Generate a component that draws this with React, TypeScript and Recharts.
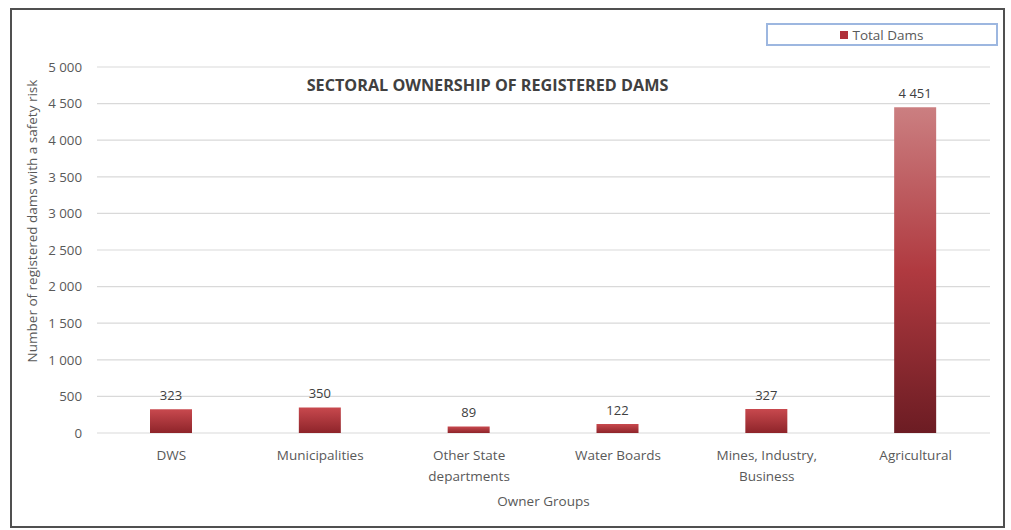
import React from 'react';
import {
  BarChart,
  Bar,
  XAxis,
  YAxis,
  CartesianGrid,
  Legend,
  LabelList,
  Cell,
  Text
} from 'recharts';

const ownerGroups = [
  'DWS',
  'Municipalities',
  'Other State departments',
  'Water Boards',
  'Mines, Industry, Business',
  'Agricultural'
];
const totalDams = [323, 350, 89, 122, 327, 4451];
const yTicks = [0, 500, 1000, 1500, 2000, 2500, 3000, 3500, 4000, 4500, 5000];

const data = ownerGroups.map((group, i) => ({ group, total: totalDams[i] }));

const fmt = (v: number) => String(v).replace(/\B(?=(\d{3})+(?!\d))/g, ' ');
const FONT = '"Open Sans", "Liberation Sans", sans-serif';

function CategoryTick(props: any) {
  const { x, y, payload } = props;
  return (
    <Text
      x={x}
      y={y + 9}
      width={122}
      textAnchor="middle"
      verticalAnchor="start"
      fontSize={13.5}
      fill="#595959"
      fontFamily={FONT}
      lineHeight={21}
    >
      {payload.value}
    </Text>
  );
}

function LegendBox() {
  return (
    <div
      style={{
        width: 228,
        height: 19,
        border: '2px solid #9db7e0',
        background: '#fff',
        display: 'flex',
        alignItems: 'center',
        justifyContent: 'center',
        fontFamily: FONT,
        fontSize: 13.5,
        color: '#595959'
      }}
    >
      <span style={{ width: 8, height: 8, background: '#b0313a', marginRight: 4, display: 'inline-block' }} />
      Total Dams
    </div>
  );
}

export default function App() {
  return (
    <div>
      <style>{'body{margin:0;background:#fff}'}</style>
      <div
        style={{
          position: 'absolute',
          left: 10,
          top: 8,
          width: 991,
          height: 516,
          border: '2px solid #505050',
          background: '#fff'
        }}
      >
        <div
          style={{
            position: 'absolute',
            left: 0,
            width: 951,
            top: 64,
            textAlign: 'center',
            fontFamily: FONT,
            fontWeight: 700,
            fontSize: 16.2,
            letterSpacing: 0,
            color: '#404040',
            zIndex: 2
          }}
        >
          SECTORAL OWNERSHIP OF REGISTERED DAMS
        </div>
        <BarChart
          width={991}
          height={516}
          data={data}
          margin={{ top: 34, right: 13, bottom: 0, left: 0 }}
        >
          <defs>
            <linearGradient id="gradTall" x1="0" y1="0" x2="0" y2="1">
              <stop offset="0%" stopColor="#cb7f81" />
              <stop offset="50%" stopColor="#b03a40" />
              <stop offset="100%" stopColor="#6c1c23" />
            </linearGradient>
            <linearGradient id="gradShort" x1="0" y1="0" x2="0" y2="1">
              <stop offset="0%" stopColor="#c8494e" />
              <stop offset="100%" stopColor="#8e242a" />
            </linearGradient>
          </defs>
          <CartesianGrid vertical={false} stroke="#d9d9d9" strokeWidth={1.2} />
          <XAxis
            dataKey="group"
            axisLine={false}
            tickLine={false}
            interval={0}
            height={93}
            tick={<CategoryTick />}
            label={{
              value: 'Owner Groups',
              position: 'insideBottom',
              offset: 20,
              fontSize: 13.5,
              fill: '#595959',
              fontFamily: FONT
            }}
          />
          <YAxis
            domain={[0, 5000]}
            ticks={yTicks}
            interval={0}
            width={85}
            axisLine={false}
            tickLine={false}
            tickMargin={9}
            tickFormatter={fmt}
            tick={{ fontSize: 13.3, fill: '#595959', fontFamily: FONT }}
            label={{
              value: 'Number of registered dams with a safety risk',
              angle: -90,
              position: 'insideLeft',
              offset: 20,
              dy: -29,
              fontSize: 13.5,
              fill: '#595959',
              fontFamily: FONT,
              style: { textAnchor: 'middle' }
            }}
          />
          <Legend
            verticalAlign="top"
            align="right"
            content={<LegendBox />}
            wrapperStyle={{ position: 'absolute', left: 754, top: 13, width: 232 }}
          />
          <Bar dataKey="total" name="Total Dams" barSize={42} isAnimationActive={false}>
            {data.map((d, i) => (
              <Cell key={i} fill={d.total > 1000 ? 'url(#gradTall)' : 'url(#gradShort)'} />
            ))}
            <LabelList
              dataKey="total"
              position="top"
              offset={9}
              formatter={(v: any) => fmt(Number(v))}
              style={{ fontSize: 13, fill: '#404040', fontFamily: FONT }}
            />
          </Bar>
        </BarChart>
      </div>
    </div>
  );
}
